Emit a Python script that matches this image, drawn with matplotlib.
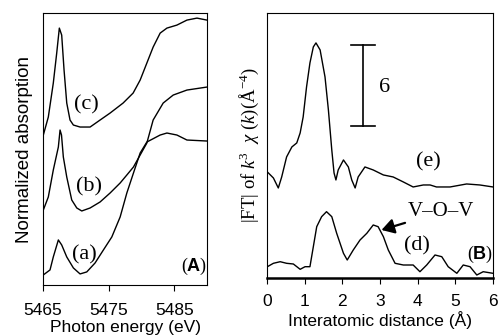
import matplotlib
matplotlib.use("Agg")
import matplotlib.pyplot as plt

# ---- Panel A: XANES ----
a_x = [5465.05, 5466.07, 5466.57, 5467.34, 5467.85, 5468.62, 5469.63, 5470.65, 5471.67, 5472.94,
       5474.21, 5475.49, 5476.76, 5477.78, 5478.79, 5479.81, 5480.83, 5482.86, 5483.89, 5485.41,
       5486.94, 5489.99]
a_y = [10, 15, 28, 45, 40, 28, 17, 11, 13, 22, 35, 48, 68, 92, 112, 132, 143, 150, 152, 150, 145, 144]

b_x = [5465.05, 5465.81, 5466.57, 5467.34, 5467.60, 5467.82, 5468.10, 5468.62, 5469.38, 5470.15,
       5470.91, 5472.18, 5473.70, 5475.23, 5476.76, 5477.78, 5478.79, 5479.81, 5480.83, 5481.79,
       5483.32, 5484.85, 5486.94, 5489.99]
b_y = [75, 88, 115, 138, 155, 150, 128, 108, 85, 77, 74, 77, 83, 92, 102, 110, 118, 130, 142, 165,
       182, 190, 195, 198]

c_x = [5465.05, 5465.81, 5466.57, 5467.09, 5467.49, 5467.85, 5468.21, 5468.62, 5469.12, 5469.63,
       5470.65, 5472.18, 5473.70, 5475.23, 5477.21, 5478.74, 5479.81, 5480.83, 5481.79, 5482.86,
       5483.89, 5485.41, 5486.94, 5488.47, 5489.99]
c_y = [150, 168, 202, 232, 257, 250, 215, 182, 165, 160, 158, 158, 165, 172, 182, 192, 205, 222,
       238, 252, 257, 260, 265, 267, 265]

xanes_ticks = [5465, 5475, 5485]

# ---- Panel B: FT ----
e_x = [0.01, 0.17, 0.30, 0.39, 0.52, 0.66, 0.79, 0.88, 0.96, 1.05, 1.14, 1.23, 1.30, 1.41, 1.54,
       1.63, 1.72, 1.78, 1.83, 1.89, 2.03, 2.16, 2.25, 2.34, 2.42, 2.60, 2.82, 3.09, 3.35, 3.62,
       3.88, 4.15, 4.33, 4.50, 4.86, 5.30, 5.65, 6.0]
e_y = [106, 100, 90, 101, 121, 131, 135, 145, 161, 191, 215, 231, 235, 228, 201, 168, 128, 105,
       98, 108, 118, 111, 98, 90, 101, 111, 108, 103, 101, 96, 91, 93, 93, 91, 91, 94, 93, 91]

d_x = [0.01, 0.17, 0.35, 0.52, 0.70, 0.88, 1.01, 1.14, 1.23, 1.32, 1.45, 1.58, 1.72, 1.85, 2.03,
       2.13, 2.29, 2.47, 2.65, 2.82, 2.95, 3.09, 3.22, 3.40, 3.62, 3.88, 4.06, 4.24, 4.46, 4.64,
       4.81, 5.04, 5.21, 5.39, 5.57, 5.74, 6.0]
d_y = [11.3, 14.7, 16.3, 14.7, 14, 8.7, 11.3, 11.3, 31.3, 51.3, 61.3, 66.3, 61.3, 44.7, 24.7, 18,
       28, 38, 44.7, 53, 51.3, 41.3, 28, 14.7, 13, 13, 6.3, 13, 23, 21.3, 11.3, 4.7, 13, 11.3, 3,
       6.3, 4.7]

ft_ticks = [0, 1, 2, 3, 4, 5, 6]

serif = ["Liberation Serif", "DejaVu Serif"]
sans = ["Liberation Sans", "DejaVu Sans"]
plt.rcParams['font.family'] = sans
plt.rcParams['mathtext.fontset'] = 'custom'
plt.rcParams['mathtext.rm'] = 'Liberation Serif'
plt.rcParams['mathtext.it'] = 'Liberation Serif:italic'
plt.rcParams['mathtext.bf'] = 'Liberation Sans:bold'

fig = plt.figure(figsize=(5.0, 3.36), dpi=100)
axA = fig.add_axes([0.086, 0.152, 0.328, 0.809])
axB = fig.add_axes([0.534, 0.1726, 0.452, 0.789])

lw = 1.0
for xs, ys in [(a_x, a_y), (b_x, b_y), (c_x, c_y)]:
    axA.plot(xs, ys, color="black", lw=lw)
axA.set_xlim(5465, 5490)
axA.set_ylim(0, 272)
axA.set_xticks(xanes_ticks)
axA.set_yticks([])
axA.tick_params(axis='x', direction='out', length=4, labelsize=12.5, pad=9)
axA.set_xlabel("Photon energy (eV)", fontsize=12.5, labelpad=1.5)
axA.set_ylabel("Normalized absorption", fontsize=13.5, labelpad=7)
axA.text(5471.67, 180, "(c)", family=serif, fontsize=16, ha="center", va="center")
axA.text(5471.95, 98, "(b)", family=serif, fontsize=16, ha="center", va="center")
axA.text(5471.3, 30, "(a)", family=serif, fontsize=16, ha="center", va="center")
axA.text(5488.0, 19, r"($\mathbf{A}$)", family=serif, fontsize=13, ha="center", va="center")

axB.plot(e_x, e_y, color="black", lw=lw)
axB.plot(d_x, d_y, color="black", lw=lw)
axB.set_xlim(0, 6)
axB.set_ylim(0, 265)
axB.set_xticks(ft_ticks)
axB.set_yticks([])
axB.spines['bottom'].set_linewidth(1.8)
axB.tick_params(axis='x', direction='out', length=4, labelsize=12.5, pad=7.5)
axB.set_xlabel("Interatomic distance (Å)", fontsize=12.5, labelpad=1.5)
axB.set_ylabel(r"|FT| of $k^3$  $\chi$ $(k)$($\mathrm{\AA}^{-4}$)", family=serif,
               fontsize=13.5, labelpad=4)
# scale bar
axB.plot([2.54, 2.54], [152, 233], color="black", lw=1.2)
axB.plot([2.22, 2.86], [233, 233], color="black", lw=1.2)
axB.plot([2.22, 2.86], [152, 152], color="black", lw=1.2)
axB.text(3.13, 190, "6", family=serif, fontsize=16, ha="center", va="center")
axB.text(4.28, 116, "(e)", family=serif, fontsize=16, ha="center", va="center")
axB.text(3.97, 32, "(d)", family=serif, fontsize=16, ha="center", va="center")
axB.annotate("V–O–V", xy=(3.04, 48), xytext=(4.62, 66), family=serif, fontsize=15,
             ha="center", va="center",
             arrowprops=dict(arrowstyle="-|>,head_length=0.5,head_width=0.3", color="black",
                             lw=1.6, shrinkA=24, shrinkB=0))
axB.text(5.67, 23.5, r"($\mathbf{B}$)", family=serif, fontsize=13, ha="center", va="center")

for ax in (axA, axB):
    for s in ax.spines.values():
        s.set_color("black")

fig.savefig("out.png", dpi=100)
